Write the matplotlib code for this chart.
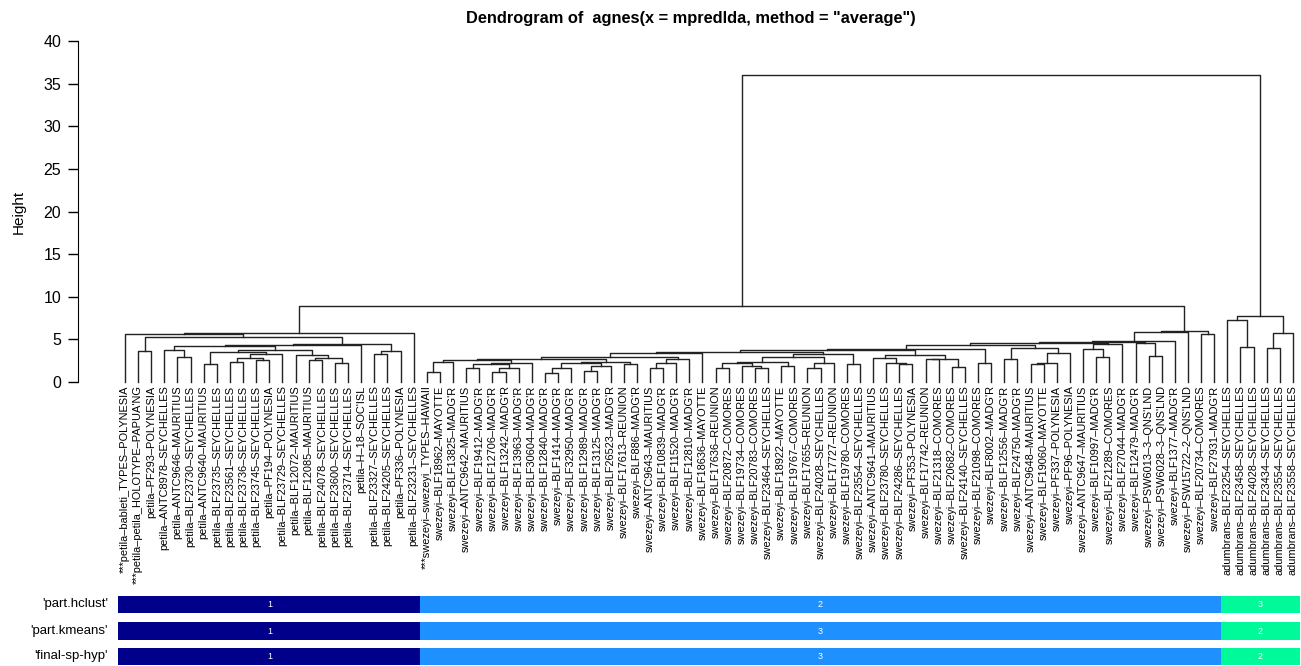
import matplotlib
matplotlib.use('Agg')
import matplotlib.pyplot as plt

plt.rcParams['font.family'] = ['Liberation Sans', 'DejaVu Sans']

W, H = 1301, 666

labels = [
    "***petila-bableti_TYPES-POLYNESIA", "***petila-petila_HOLOTYPE-PAPUA'NG",
    "petila-PF293-POLYNESIA", "petila-ANTC8978-SEYCHELLES", "petila-ANTC9646-MAURITIUS",
    "petila-BLF23730-SEYCHELLES", "petila-ANTC9640-MAURITIUS", "petila-BLF23735-SEYCHELLES",
    "petila-BLF23561-SEYCHELLES", "petila-BLF23736-SEYCHELLES", "petila-BLF23745-SEYCHELLES",
    "petila-PF194-POLYNESIA", "petila-BLF23729-SEYCHELLES", "petila-BLF12072-MAURITIUS",
    "petila-BLF12085-MAURITIUS", "petila-BLF24078-SEYCHELLES", "petila-BLF23600-SEYCHELLES",
    "petila-BLF23714-SEYCHELLES", "petila-H-18-SOC'ISL", "petila-BLF23327-SEYCHELLES",
    "petila-BLF24205-SEYCHELLES", "petila-PF336-POLYNESIA", "petila-BLF23231-SEYCHELLES",
    "***swezeyi-swezeyi_TYPES-HAWAII", "swezeyi-BLF18962-MAYOTTE", "swezeyi-BLF13825-MADG'R",
    "swezeyi-ANTC9642-MAURITIUS", "swezeyi-BLF19412-MADG'R", "swezeyi-BLF12706-MADG'R",
    "swezeyi-BLF13242-MADG'R", "swezeyi-BLF13963-MADG'R", "swezeyi-BLF30604-MADG'R",
    "swezeyi-BLF12840-MADG'R", "swezeyi-BLF1414-MADG'R", "swezeyi-BLF32950-MADG'R",
    "swezeyi-BLF12989-MADG'R", "swezeyi-BLF13125-MADG'R", "swezeyi-BLF26523-MADG'R",
    "swezeyi-BLF17613-REUNION", "swezeyi-BLF886-MADG'R", "swezeyi-ANTC9643-MAURITIUS",
    "swezeyi-BLF10839-MADG'R", "swezeyi-BLF11520-MADG'R", "swezeyi-BLF12810-MADG'R",
    "swezeyi-BLF18636-MAYOTTE", "swezeyi-BLF17636-REUNION", "swezeyi-BLF20872-COMORES",
    "swezeyi-BLF19734-COMORES", "swezeyi-BLF20783-COMORES", "swezeyi-BLF23464-SEYCHELLES",
    "swezeyi-BLF18922-MAYOTTE", "swezeyi-BLF19767-COMORES", "swezeyi-BLF17655-REUNION",
    "swezeyi-BLF24028-SEYCHELLES", "swezeyi-BLF17727-REUNION", "swezeyi-BLF19780-COMORES",
    "swezeyi-BLF23554-SEYCHELLES", "swezeyi-ANTC9641-MAURITIUS", "swezeyi-BLF23780-SEYCHELLES",
    "swezeyi-BLF24286-SEYCHELLES", "swezeyi-PF353-POLYNESIA", "swezeyi-BLF17742-REUNION",
    "swezeyi-BLF21318-COMORES", "swezeyi-BLF20682-COMORES", "swezeyi-BLF24140-SEYCHELLES",
    "swezeyi-BLF21098-COMORES", "swezeyi-BLF8002-MADG'R", "swezeyi-BLF12556-MADG'R",
    "swezeyi-BLF24750-MADG'R", "swezeyi-ANTC9648-MAURITIUS", "swezeyi-BLF19060-MAYOTTE",
    "swezeyi-PF337-POLYNESIA", "swezeyi-PF96-POLYNESIA", "swezeyi-ANTC9647-MAURITIUS",
    "swezeyi-BLF10997-MADG'R", "swezeyi-BLF21289-COMORES", "swezeyi-BLF27044-MADG'R",
    "swezeyi-BLF12479-MADG'R", "swezeyi-PSW6013-3-QNS'LND", "swezeyi-PSW6028-3-QNS'LND",
    "swezeyi-BLF1377-MADG'R", "swezeyi-PSW15722-2-QNS'LND", "swezeyi-BLF20734-COMORES",
    "swezeyi-BLF27931-MADG'R", "adumbrans-BLF23254-SEYCHELLES", "adumbrans-BLF23458-SEYCHELLES",
    "adumbrans-BLF24028-SEYCHELLES", "adumbrans-BLF23434-SEYCHELLES",
    "adumbrans-BLF23554-SEYCHELLES", "adumbrans-BLF23558-SEYCHELLES",
]

# merges: (height, left, right); ints are leaf numbers in plotted order
petila_a = (3.75, 4, (2.97, 5, 6))
petila_b = (3.56, (2.07, 7, 8), (3.25, (2.85, (2.31, 9, 10), (2.58, 11, 12)), 13))
petila_c = (3.20, 14, (2.85, (2.58, 15, 16), (2.27, 17, 18)))
petila_d = (3.64, (3.25, 20, 21), 22)
petila_mid = (4.42, (4.34, (4.22, petila_a, (3.70, petila_b, petila_c)), 19), petila_d)
petila = (5.79, (5.59, 1, (5.32, (3.63, 2, 3), petila_mid)), 23)

sw_1 = (2.58, (2.38, (1.14, 24, 25), 26), (2.27, (2.07, (1.68, 27, 28), (1.60, (1.14, 29, 30), 31)), 32))
sw_2 = (2.40, (2.27, (1.60, (1.02, 33, 34), 35), (1.90, (1.33, 36, 37), 38)), (2.07, 39, 40))
sw_3 = (2.66, (2.27, (1.68, 41, 42), 43), 44)
sw_4 = (3.36, (2.90, (2.71, sw_1, sw_2), sw_3), 45)
sw_5 = (2.39, (2.19, (1.68, 46, 47), (1.90, 48, (1.68, 49, 50))), (1.88, 51, 52))
sw_6 = (3.25, (2.90, sw_5, (2.27, (1.68, 53, 54), 55)), (2.07, 56, 57))
sw_7 = (3.17, (2.78, 58, (2.27, 59, (2.07, 60, 61))), (2.74, (2.66, 62, 63), (1.79, 64, 65)))
sw_8 = (3.92, (3.78, (3.48, sw_4, sw_6), sw_7), (2.19, 66, 67))
sw_9 = (3.95, (2.70, 68, 69), (3.36, (2.27, (2.11, 70, 71), 72), 73))
sw_10 = (4.45, (3.83, 74, (2.97, 75, 76)), 77)
sw_11 = (4.53, 78, (3.09, 79, 80))
sw_12 = (4.73, (4.58, (4.30, sw_8, sw_9), sw_10), sw_11)
swezeyi = (6.02, (5.90, (4.80, sw_12, 81), 82), (5.59, 83, 84))

adumbrans = (7.78, (7.27, 85, (4.07, 86, 87)), (5.79, (4.03, 88, 89), 90))

root = (36.0, (8.91, petila, swezeyi), adumbrans)

part_hclust = [1] * 23 + [2] * 61 + [3] * 6
part_kmeans = [1] * 23 + [3] * 61 + [2] * 6
final_sp_hyp = [1] * 23 + [3] * 61 + [2] * 6
row_names = ["'part.hclust'", "'part.kmeans'", "'final-sp-hyp'"]
bar_colors = ['#00008B', '#1E90FF', '#00FA9A']

fig = plt.figure(figsize=(W / 100, H / 100), dpi=100)
ax = fig.add_axes([78 / W, (H - 382) / H, 1223 / W, 341 / H])
ax.set_xlim(-3.58, 89.61)
ax.set_ylim(0, 40)


def draw(node):
    if isinstance(node, int):
        return node - 1, 0.0
    h, l, r = node
    xl, hl = draw(l)
    xr, hr = draw(r)
    ax.plot([xl, xl, xr, xr], [hl, h, h, hr], color='#222222', lw=1.0, clip_on=False)
    return (xl + xr) / 2, h


draw(root)

for i, lab in enumerate(labels):
    ax.text(i, -0.4, lab.replace('-', '\u2013'), rotation=90, ha='center', va='top', fontsize=7.9)

for s in ['top', 'right', 'bottom']:
    ax.spines[s].set_visible(False)
ax.set_xticks([])
ax.set_yticks(range(0, 41, 5))
ax.tick_params(axis='y', length=7, labelsize=11.5, width=1, pad=5)
ax.set_ylabel('Height', fontsize=11, labelpad=13)

fig.text(691 / W, 1 - 18 / H, 'Dendrogram of  agnes(x = mpredlda, method = "average")',
         ha='center', va='center', fontsize=11.8, fontweight='bold')

# colored bars under the tree
bx = fig.add_axes([78 / W, 0, 1223 / W, 70 / H])
bx.set_xlim(-3.58, 89.61)
bx.set_ylim(0, 70)
bx.axis('off')
row_y = [61.5, 35, 9.5]
for name, vals, yc in zip(row_names, [part_hclust, part_kmeans, final_sp_hyp], row_y):
    start = 0
    k = 0
    for j in range(1, len(vals) + 1):
        if j == len(vals) or vals[j] != vals[start]:
            bx.barh(yc, j - start, left=start - 0.5, height=17.5, color=bar_colors[k])
            bx.text((start + j - 1) / 2, yc, str(vals[start]), color='white',
                    ha='center', va='center', fontsize=6.5)
            k += 1
            start = j
    fig.text(108 / W, yc / H, name, ha='right', va='center', fontsize=9.5)

fig.savefig('out.png', dpi=100)
